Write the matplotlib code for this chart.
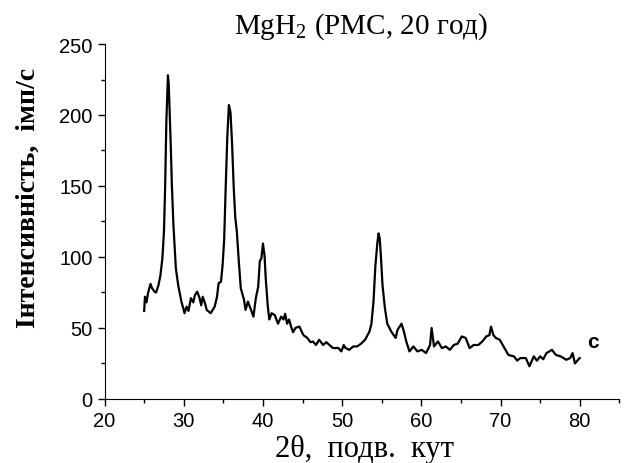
import numpy as np
import matplotlib
matplotlib.use("Agg")
import matplotlib.pyplot as plt
from matplotlib.ticker import MultipleLocator

plt.rcParams['mathtext.fontset'] = 'custom'
plt.rcParams['mathtext.rm'] = 'Liberation Serif'

# 2theta, deg
two_theta = [25.0, 25.1, 25.3, 25.5, 25.8, 26.0, 26.3, 26.5, 26.8, 27.05, 27.3,
             27.5, 27.65, 27.8, 28.0, 28.1, 28.2, 28.35, 28.5, 28.7, 29.0, 29.3,
             29.7, 30.1, 30.35, 30.6, 30.9, 31.2, 31.4, 31.7, 32.0, 32.2, 32.4,
             32.7, 32.9, 33.4, 33.9, 34.2, 34.4, 34.7, 34.9, 35.1, 35.3, 35.5,
             35.7, 35.9, 36.1, 36.3, 36.5, 36.7, 36.95, 37.2, 37.6, 37.8, 38.1,
             38.5, 38.8, 39.1, 39.4, 39.6, 39.8, 40.0, 40.2, 40.35, 40.6, 40.8,
             41.1, 41.5, 41.9, 42.3, 42.6, 42.8, 43.05, 43.3, 43.55, 43.8, 44.1,
             44.6, 45.1, 45.6, 46.0, 46.3, 46.7, 47.1, 47.6, 48.0, 48.4, 48.8,
             49.1, 49.5, 49.9, 50.2, 50.4, 50.9, 51.4, 51.9, 52.4, 52.9, 53.45,
             53.7, 53.96, 54.2, 54.45, 54.6, 54.75, 54.9, 55.1, 55.4, 55.7, 56.2,
             56.5, 56.75, 57.0, 57.5, 57.8, 58.1, 58.5, 59.0, 59.5, 60.05, 60.6,
             61.1, 61.3, 61.6, 62.1, 62.6, 63.1, 63.6, 64.1, 64.6, 65.1, 65.6,
             66.1, 66.6, 67.2, 67.7, 68.2, 68.6, 68.8, 69.1, 69.4, 69.9, 70.5,
             71.0, 71.7, 72.1, 72.5, 73.2, 73.65, 74.2, 74.6, 75.0, 75.4, 75.8,
             76.5, 77.0, 77.6, 78.3, 78.8, 79.1, 79.4, 79.7, 80.0]

# intensity, counts/s
intensity = [62, 72, 68, 75, 81, 78, 75.6, 75, 80, 87, 99,
             118, 150, 195, 228, 222, 205, 180, 150, 122, 92, 80,
             68.6, 60.4, 65, 62, 71, 68, 73, 75.6, 71, 66, 72,
             67, 62.7, 60.4, 65, 72, 81.5, 82.6, 94, 112, 150, 185,
             207, 202, 180, 150, 128, 118, 97, 78, 70, 62.7, 68.6,
             62.7, 58, 71, 79, 97, 99, 109.5, 101, 85, 66, 56,
             60.4, 59, 53, 58, 56, 60, 53, 56, 51, 47, 50,
             51, 45, 43, 40, 40.5, 38, 41.7, 38, 40, 38, 36,
             35.8, 36, 33.5, 38, 36, 34.6, 37, 37, 39, 41.7, 47.5,
             53, 68.6, 94, 110, 116.6, 113, 100, 80, 64, 53, 47.5,
             45, 43, 48.7, 53, 47.5, 40.5, 33.5, 37, 33.5, 34.6, 32.3,
             38, 50, 37, 40.5, 35.8, 37, 34.6, 38, 39, 44, 43,
             35.8, 38, 38, 40.5, 44, 45, 51, 45, 43, 41.7, 35.8,
             31, 30, 27, 28.8, 28.8, 23, 30, 27, 30, 28, 32.3,
             34.6, 31, 30, 27.6, 28.8, 32.3, 25, 27, 28.8]

fig = plt.figure(figsize=(6.3, 4.64), dpi=100)
ax = fig.add_axes([0.166, 0.138, 0.817, 0.765])

ax.plot(two_theta, intensity, color='black', lw=1.6)

ax.set_xlim(20, 85)
ax.set_ylim(0, 250)
ax.xaxis.set_major_locator(MultipleLocator(10))
ax.xaxis.set_minor_locator(MultipleLocator(5))
ax.yaxis.set_major_locator(MultipleLocator(50))
ax.yaxis.set_minor_locator(MultipleLocator(25))
ax.spines['top'].set_visible(False)
ax.spines['right'].set_visible(False)
ax.tick_params(which='both', direction='out', width=1, labelsize=14.5)
ax.tick_params(which='major', length=5)
ax.tick_params(which='minor', length=3)
for lab in ax.get_xticklabels() + ax.get_yticklabels():
    lab.set_fontfamily('Liberation Sans')

fig.text(0.579, 0.032, '2θ,  подв.  кут', fontfamily='Liberation Serif', fontsize=22,
         ha='center', va='center')
fig.text(0.045, 0.573, 'Інтенсивність,  імп/с', fontfamily='Liberation Serif', fontsize=20,
         fontweight='bold', rotation=90, ha='center', va='center')
fig.text(0.573, 0.942, r'MgH$_2$ (РМС, 20 год)', fontfamily='Liberation Serif',
         fontsize=21, ha='center', va='center')
fig.text(0.941, 0.261, 'c', fontfamily='Liberation Sans', fontsize=15,
         fontweight='bold', ha='center', va='center')

fig.savefig('out.png', dpi=100)
